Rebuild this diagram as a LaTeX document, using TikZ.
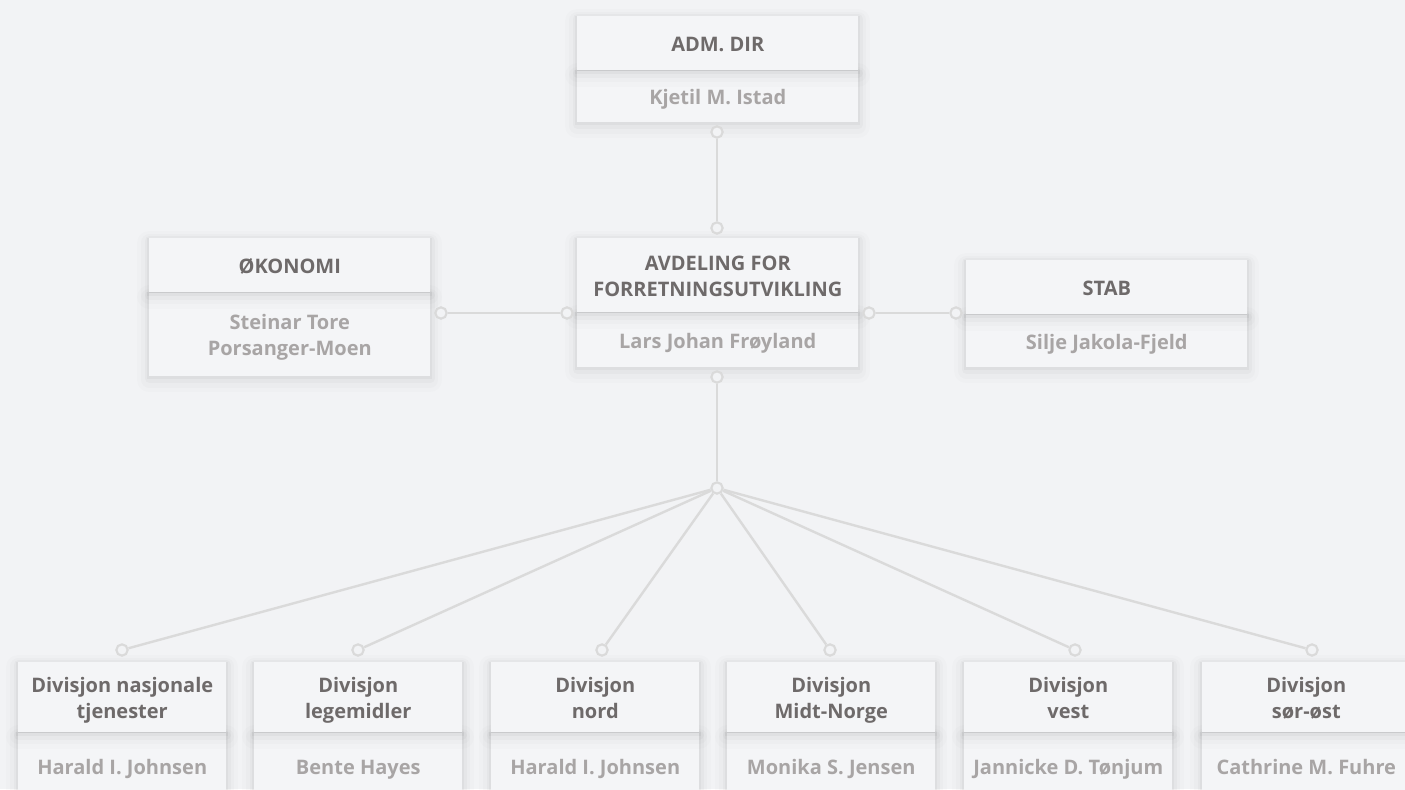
\documentclass[tikz,border=0pt]{standalone}
\usepackage{fontspec}
\setmainfont{Open Sans}
\usepackage{tikz}
\usepackage{xcolor}
\usetikzlibrary{positioning}
\definecolor{bgcol}{HTML}{F2F3F5}
\definecolor{cardcol}{HTML}{F4F5F7}
\definecolor{titlecol}{HTML}{6E6A6A}
\definecolor{namecol}{HTML}{A8A5A5}
\definecolor{linecol}{HTML}{DADADA}
\tikzstyle{softshadow} = [preaction={draw=black, draw opacity=0.012, line width=18pt, line join=round, transform canvas={yshift=-3.5pt}},
                          preaction={draw=black, draw opacity=0.016, line width=12pt, line join=round, transform canvas={yshift=-3pt}},
                          preaction={draw=black, draw opacity=0.022, line width=7pt, line join=round, transform canvas={yshift=-2pt}},
                          preaction={draw=black, draw opacity=0.03, line width=3pt, transform canvas={yshift=-1pt}}]
\tikzstyle{card}     = [rectangle, inner sep=0pt, fill=cardcol, align=center, softshadow,
                        text height=12.9pt, text depth=0pt]
\tikzstyle{twolines} = [text height=32.4pt]
\tikzstyle{head}     = [card, minimum width=210.75pt, minimum height=40.5pt, text=titlecol,
                        font=\bfseries\fontsize{15}{19.5}\selectfont]
\tikzstyle{namebox}  = [card, minimum width=210.75pt, minimum height=39pt, text=namecol,
                        font=\bfseries\fontsize{15}{19.5}\selectfont]
\tikzstyle{divhead}  = [head, twolines, minimum width=156pt, minimum height=52.5pt]
\tikzstyle{divname}  = [namebox, minimum width=156pt, minimum height=49.5pt]
\tikzstyle{dot}      = [circle, draw=linecol, line width=1.6pt, fill=bgcol, minimum size=8.5pt, inner sep=0pt]
\tikzstyle{link}     = [draw=linecol, line width=1.8pt]

\begin{document}
\begin{tikzpicture}[x=0.75pt, y=-0.75pt]
    \useasboundingbox[fill=bgcol] (0,0) rectangle (1405,789);
    \clip (0,0) rectangle (1405,789);

    % top level
    \node (admname) [namebox, minimum height=38.25pt, anchor=south west] at (577,122) {Kjetil M. Istad};
    \node (adm) [head, above=0pt of admname] {ADM. DIR};

    \node (forrname) [namebox, minimum height=40.5pt, anchor=south west] at (577,367) {Lars Johan Frøyland};
    \node (forr) [head, twolines, minimum height=55.5pt, above=0pt of forrname] {AVDELING FOR\\FORRETNINGSUTVIKLING};

    \node (okonname) [namebox, twolines, minimum height=62.25pt, anchor=south west] at (149,376) {Steinar Tore\\Porsanger-Moen};
    \node (okon) [head, above=0pt of okonname] {ØKONOMI};

    \node (stabname) [namebox, anchor=south west] at (966,367) {Silje Jakola-Fjeld};
    \node (stab) [head, above=0pt of stabname] {STAB};

    % divisions
    \node (div1name) [divname, anchor=south west] at (18,799) {Harald I. Johnsen};
    \node (div1) [divhead, above=0pt of div1name] {Divisjon nasjonale\\tjenester};
    \node (div2name) [divname, anchor=south west] at (254,799) {Bente Hayes};
    \node (div2) [divhead, above=0pt of div2name] {Divisjon\\legemidler};
    \node (div3name) [divname, anchor=south west] at (491,799) {Harald I. Johnsen};
    \node (div3) [divhead, above=0pt of div3name] {Divisjon\\nord};
    \node (div4name) [divname, anchor=south west] at (727,799) {Monika S. Jensen};
    \node (div4) [divhead, above=0pt of div4name] {Divisjon\\Midt-Norge};
    \node (div5name) [divname, anchor=south west] at (964,799) {Jannicke D. Tønjum};
    \node (div5) [divhead, above=0pt of div5name] {Divisjon\\vest};
    \node (div6name) [divname, anchor=south west] at (1202,799) {Cathrine M. Fuhre};
    \node (div6) [divhead, above=0pt of div6name] {Divisjon\\sør-øst};

    % connector ends
    \node (admdot) [dot] at (717,132) {};
    \node (forrtop) [dot] at (717,228) {};
    \node (forrbot) [dot] at (717,377) {};
    \node (forrleft) [dot] at (567,313) {};
    \node (forrright) [dot] at (869,313) {};
    \node (okondot) [dot] at (441,313) {};
    \node (stabdot) [dot] at (956,313) {};
    \node (hub) [dot] at (717,488) {};
    \node (div1dot) [dot] at (122,650) {};
    \node (div2dot) [dot] at (358,650) {};
    \node (div3dot) [dot] at (602,650) {};
    \node (div4dot) [dot] at (830,650) {};
    \node (div5dot) [dot] at (1075,650) {};
    \node (div6dot) [dot] at (1312,650) {};

    \draw[link] (admdot) -- (forrtop);
    \draw[link] (forrleft) -- (okondot);
    \draw[link] (forrright) -- (stabdot);
    \draw[link] (forrbot) -- (hub);
    \draw[link] (hub) -- (div1dot);
    \draw[link] (hub) -- (div2dot);
    \draw[link] (hub) -- (div3dot);
    \draw[link] (hub) -- (div4dot);
    \draw[link] (hub) -- (div5dot);
    \draw[link] (hub) -- (div6dot);
\end{tikzpicture}
\end{document}
